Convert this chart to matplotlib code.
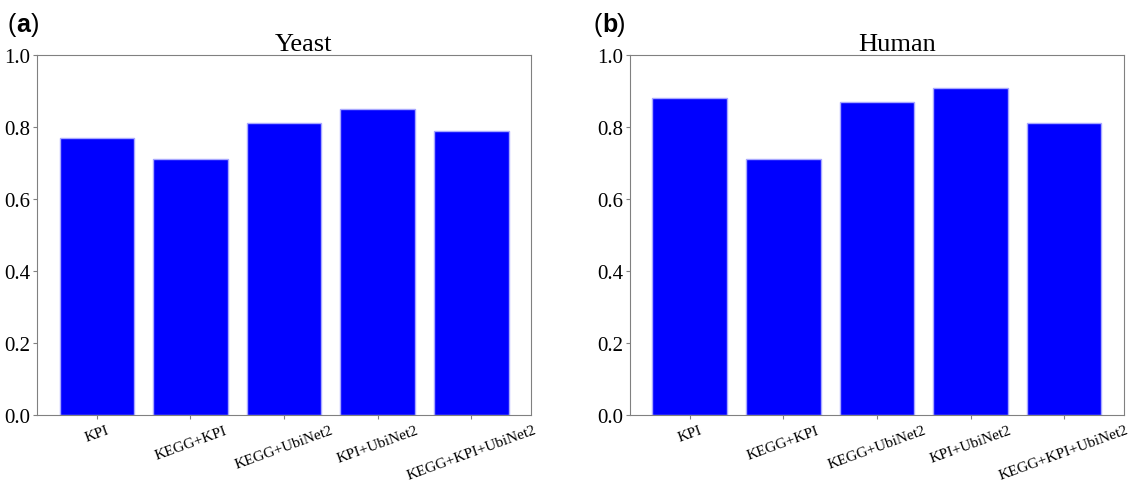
import matplotlib.pyplot as plt

# data
categories = ['KPI', 'KEGG+KPI', 'KEGG+UbiNet2', 'KPI+UbiNet2', 'KEGG+KPI+UbiNet2']
yeast = [0.77, 0.71, 0.81, 0.85, 0.79]
human = [0.88, 0.71, 0.87, 0.91, 0.81]
titles = ['Yeast', 'Human']
panel_labels = ['a', 'b']
label_x = [0.007, 0.524]

plt.rcParams['font.family'] = ['Liberation Serif', 'DejaVu Serif']

fig = plt.figure(figsize=(11.33, 4.85), dpi=100)
ax1 = fig.add_axes([0.0327, 0.1423, 0.436, 0.742])
ax2 = fig.add_axes([0.556, 0.1423, 0.436, 0.742])

for ax, vals, title, lab, lx in zip([ax1, ax2], [yeast, human], titles, panel_labels, label_x):
    ax.bar(categories, vals, width=0.8, color='#0000ff', edgecolor='#a8a8ff', linewidth=1)
    ax.set_ylim(0, 1.0)
    ax.set_yticks([0.0, 0.2, 0.4, 0.6, 0.8, 1.0])
    ax.set_title(title, fontsize=19, pad=2, x=0.54)
    ax.tick_params(axis='y', labelsize=15, color='#808080', length=3, pad=2)
    ax.tick_params(axis='x', labelsize=11, color='#808080', length=3, pad=3)
    plt.setp(ax.get_xticklabels(), rotation=20, ha='center')
    for s in ax.spines.values():
        s.set_color('#808080')
    # panel label like "(a)"
    fs = 18
    w_paren = 0.333 * fs / 72 * 100 / 1133
    w_a = 0.556 * fs / 72 * 100 / 1133 + 0.001
    fig.text(lx, 0.948, '(', fontsize=fs, family='Liberation Sans', va='center')
    fig.text(lx + w_paren, 0.948, lab, fontsize=fs, family='Liberation Sans',
             fontweight='bold', va='center')
    fig.text(lx + w_paren + w_a, 0.948, ')', fontsize=fs,
             family='Liberation Sans', va='center')

fig.savefig('out.png', dpi=100)
